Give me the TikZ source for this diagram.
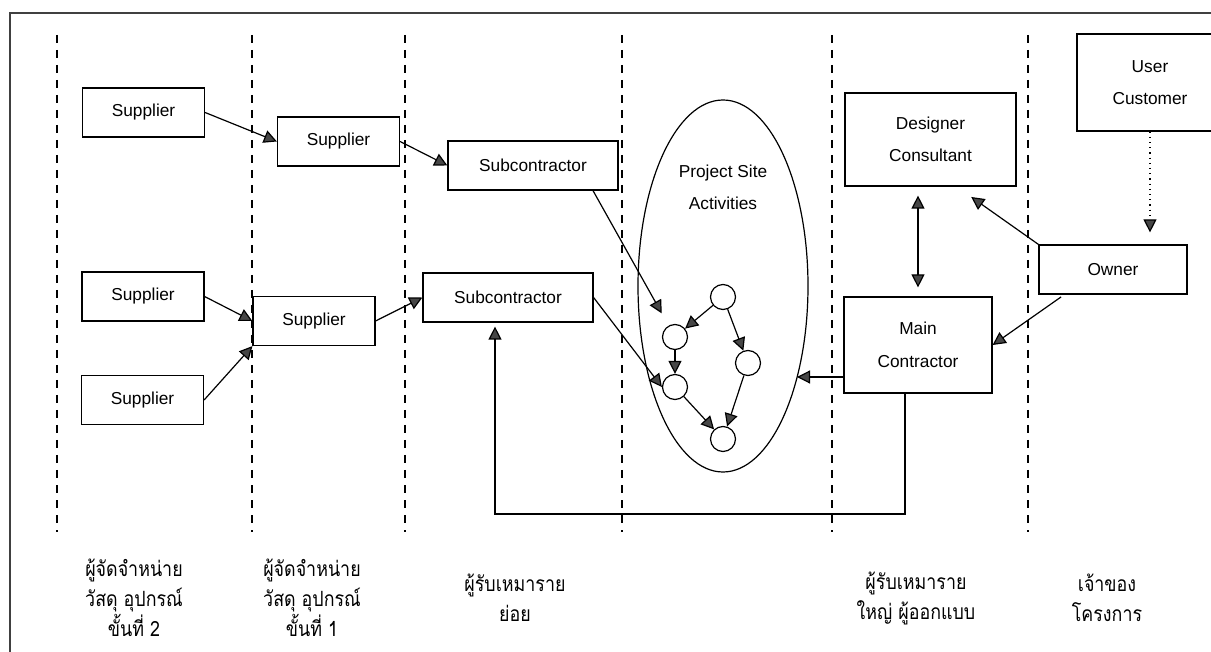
\documentclass[tikz,border=0pt]{standalone}
\usepackage{fontspec}
\setmainfont{Liberation Sans}
\newfontfamily\thaifont[Script=Thai, FakeStretch=0.85]{Loma}
\usepackage{tikz}
\usetikzlibrary{arrows.meta, positioning, shapes.geometric}

\begin{document}
\begin{tikzpicture}[x=0.5pt, y=-0.5pt,
  box/.style={draw, line width=0.6pt, inner sep=0pt, font=\fontsize{8.65}{16.3}\selectfont, align=center},
  supbox/.style={box, minimum width=61pt, minimum height=24.5pt},
  subbox/.style={box, minimum width=85pt, minimum height=24.5pt},
  circ/.style={draw, circle, line width=0.6pt, minimum size=12.5pt, inner sep=0pt},
  arr/.style={-{Triangle[length=6.5pt, width=6.5pt, fill=gray!55!black]}, line width=0.6pt},
  darr/.style={{Triangle[length=6.5pt, width=6.5pt, fill=gray!55!black]}-{Triangle[length=6.5pt, width=6.5pt, fill=gray!55!black]}, line width=0.6pt},
  lane/.style={dash pattern=on 4pt off 3.5pt, line width=0.6pt},
  thai/.style={font=\thaifont\fontsize{10.5}{15}\selectfont, align=center}
]
  \useasboundingbox (0,0) rectangle (1211,652);
  \clip (0,0) rectangle (1211,652);

  % frame and lanes
  \draw[line width=0.8pt, black!75] (1211,13) -| (10,652);
  \foreach \x in {57,252,405,622,832,1028}
    \draw[lane] (\x,35) -- (\x,532);

  % 1. Suppliers
  \node[supbox] (sup1) at (143.5,112.5) {Supplier};
  \node[supbox] (sup3) at (143,296.5) {Supplier};
  \node[supbox] (sup5) at (142.5,400) {Supplier};
  \node[supbox] (sup2) at (338.5,141.5) {Supplier};
  \node[supbox] (sup4) at (314,321) {Supplier};

  % 2. Subcontractors
  \node[subbox] (sub1) at (533,165.5) {Subcontractor};
  \node[subbox] (sub2) at (508,297.5) {Subcontractor};

  % 3. Project site
  \node[draw, ellipse, line width=0.6pt, minimum width=85pt, minimum height=186pt, inner sep=0pt] (site) at (723,286) {};
  \node[box, draw=none] (sitetxt) at (723,187.5) {Project Site\\Activities};
  \node[circ] (c1) at (723,297) {};
  \node[circ] (c2) at (675,337) {};
  \node[circ] (c3) at (748,363) {};
  \node[circ] (c4) at (675,387) {};
  \node[circ] (c5) at (723,439) {};

  % 4. Main contractor, designer, owner, user
  \node[box, minimum width=85.5pt, minimum height=46.5pt] (dc) at (930.5,139.5) {Designer\\Consultant};
  \node[box, minimum width=74pt, minimum height=48pt] (mc) at (918,345) {Main\\Contractor};
  \node[box, minimum width=74pt, minimum height=24.5pt] (own) at (1113,269.5) {Owner};
  \node[box, minimum width=73pt, minimum height=48.5pt] (usr) at (1150,82.5) {User\\Customer};

  % Supply chain arrows
  \draw[arr] (sup1.east) -- (sup2.west);
  \draw[arr] (sup2.east) -- (sub1.west);
  \draw[arr] (sup3.east) -- (sup4.west);
  \draw[arr] (sup5.east) -- (sup4.south west);
  \draw[arr] (sup4.east) -- (sub2.west);

  % Into the site
  \draw[arr, shorten >=7pt] ([xshift=30pt]sub1.south) -- (c2);
  \draw[arr] (sub2.east) -- (c4.west);
  \draw[arr] (c1) -- (c2);
  \draw[arr] (c2) -- (c4);
  \draw[arr] (c1) -- (c3);
  \draw[arr] (c4) -- (c5);
  \draw[arr] (c3) -- (c5);

  \coordinate (sitein) at (797,377);
  \draw[arr] (sitein -| mc.west) -- (sitein);

  % Return line to subcontractor
  \coordinate (rtn) at (700,514);
  \draw[arr, shorten >=2pt] ([xshift=-6.5pt]mc.south) |- (rtn) -| ([xshift=-6.5pt]sub2.south);

  % Owner side
  \draw[darr, shorten <=4.5pt, shorten >=4.5pt] (mc.north |- dc.south) -- (mc.north);
  \draw[arr, shorten >=9pt] (own.north west) -- ([xshift=13pt]dc.south);
  \draw[arr, shorten <=2pt] ([xshift=13pt]own.south west) -- (mc.east);
  \draw[arr, dotted, shorten >=6pt] (usr.south) -- (usr.south |- own.north);

  % 5. Lane labels
  \node[thai] (lab1) at (134,598) {ผู้จัดจำหน่าย\\วัสดุ อุปกรณ์\\ขั้นที่ 2};
  \node[thai] (lab2) at (312,598) {ผู้จัดจำหน่าย\\วัสดุ อุปกรณ์\\ขั้นที่ 1};
  \node[thai] (lab3) at (515,598) {ผู้รับเหมาราย\\ย่อย};
  \node[thai] (lab5) at (916,598) {ผู้รับเหมาราย\\ใหญ่ ผู้ออกแบบ};
  \node[thai] (lab6) at (1107,598) {เจ้าของ\\โครงการ};

\end{tikzpicture}
\end{document}
